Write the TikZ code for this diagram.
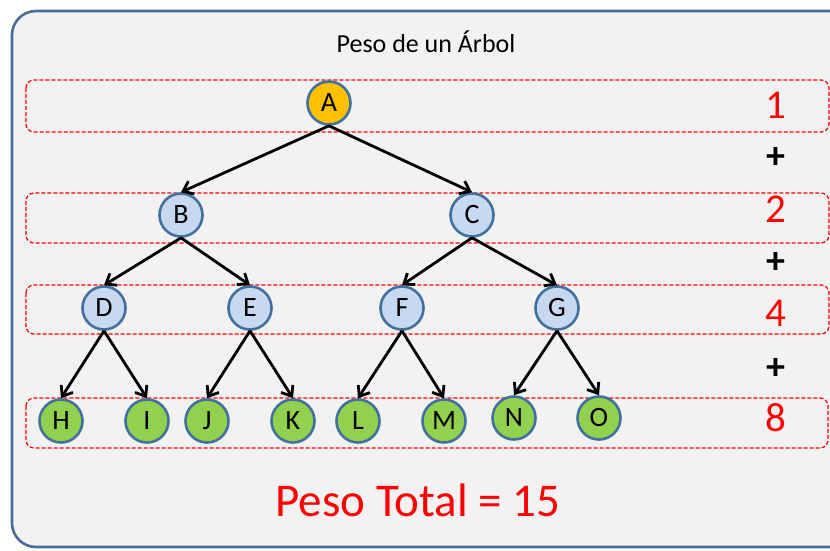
\documentclass[tikz,border=0pt]{standalone}
\usepackage{fontspec}
\setmainfont{Carlito}
\usetikzlibrary{arrows.meta}
\definecolor{panelgray}{RGB}{242,242,242}
\definecolor{panelblue}{RGB}{74,108,150}
\definecolor{rootorange}{RGB}{255,192,0}
\definecolor{innerblue}{RGB}{198,217,241}
\definecolor{leafgreen}{RGB}{146,208,80}
\definecolor{ringblue}{RGB}{65,113,156}

\tikzset{
    treenode/.style={circle,draw=ringblue,line width=2.6pt,minimum size=43pt,inner sep=0pt,
        font=\fontsize{28}{30}\selectfont},
    levelband/.style={draw=red,line width=1.2pt,dash pattern=on 4pt off 2pt,rounded corners=8pt},
    edge/.style={line width=2.8pt,-{Straight Barb[length=9pt,width=14pt]}},
    levelnum/.style={text=red,font=\fontsize{41}{44}\selectfont},
    plussign/.style={font=\fontsize{38}{40}\selectfont\bfseries}
}

\begin{document}
\begin{tikzpicture}[x=1pt,y=-1pt]
    \useasboundingbox (0,0) rectangle (830,550);
    \clip (0,0) rectangle (830,550);

    % panel
    \draw[panelblue,line width=2.6pt,fill=panelgray,rounded corners=24pt] (12,11) rectangle (860,547);
    \node (title) at (426,42) {\fontsize{26}{28}\selectfont Peso de un Árbol};

    % level bands
    \draw[levelband] (26,80) rectangle (829,132);
    \draw[levelband] (26,193) rectangle (829,243);
    \draw[levelband] (26,285) rectangle (829,334);
    \draw[levelband] (26,398) rectangle (828,448);

    % tree
    \node[treenode,fill=rootorange] (A) at (329,103) {A};
    \node[treenode,fill=innerblue] (B) at (181,215) {B};
    \node[treenode,fill=innerblue] (C) at (472,215) {C};
    \node[treenode,fill=innerblue] (D) at (104,308) {D};
    \node[treenode,fill=innerblue] (E) at (250,308) {E};
    \node[treenode,fill=innerblue] (F) at (402,308) {F};
    \node[treenode,fill=innerblue] (G) at (557,308) {G};
    \node[treenode,fill=leafgreen] (H) at (61,421) {H};
    \node[treenode,fill=leafgreen] (I) at (147,421) {I};
    \node[treenode,fill=leafgreen] (J) at (207,421) {J};
    \node[treenode,fill=leafgreen] (K) at (293,421) {K};
    \node[treenode,fill=leafgreen] (L) at (358,421) {L};
    \node[treenode,fill=leafgreen] (M) at (444,421) {M};
    \node[treenode,fill=leafgreen] (N) at (514,418) {N};
    \node[treenode,fill=leafgreen] (O) at (599,418) {O};

    \foreach \p/\c in {A/B,A/C,B/D,B/E,C/F,C/G,D/H,D/I,E/J,E/K,F/L,F/M,G/N,G/O}
        \draw[edge] (\p.south) -- (\c.north);

    % weights per level
    \node[levelnum] (w1) at (776,105) {1};
    \node[levelnum] (w2) at (776,209) {2};
    \node[levelnum] (w4) at (776,313) {4};
    \node[levelnum] (w8) at (776,418) {8};
    \node[plussign] (p1) at (776,158) {+};
    \node[plussign] (p2) at (776,263) {+};
    \node[plussign] (p3) at (776,369) {+};

    \node[text=red,font=\fontsize{47}{50}\selectfont] (total) at (418,500) {Peso Total = 15};
\end{tikzpicture}
\end{document}
